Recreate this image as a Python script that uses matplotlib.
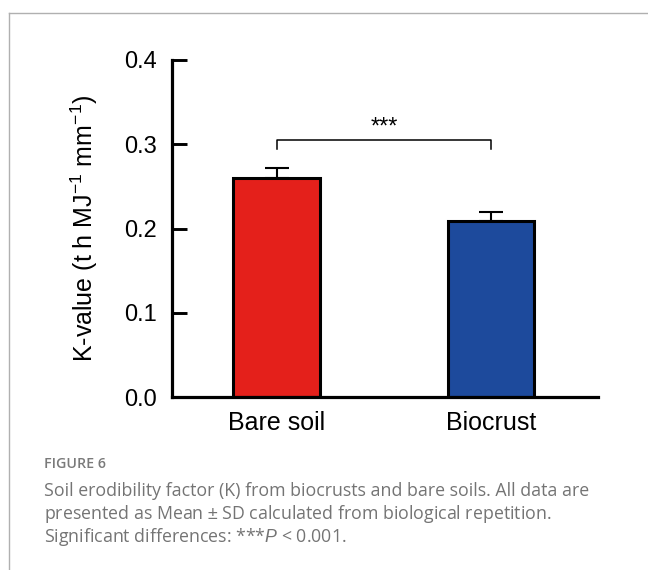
import matplotlib
matplotlib.use("Agg")
from matplotlib import pyplot as plt
from matplotlib.lines import Line2D
import numpy as np

# data
groups = ["Bare soil", "Biocrust"]
k_mean = [0.260, 0.209]
k_sd = [0.012, 0.010]
bar_colors = ["#e4201b", "#1d4a9c"]
y_ticks = [0.0, 0.1, 0.2, 0.3, 0.4]
sig_label = "***"
sig_height = 0.305

caption_head = "FIGURE 6"
caption_lines = [
    "Soil erodibility factor (K) from biocrusts and bare soils. All data are",
    "presented as Mean $\\pm$ SD calculated from biological repetition.",
    "Significant differences: ***$\\it{P}$ < 0.001.",
]

plt.rcParams["font.family"] = ["Liberation Sans", "DejaVu Sans"]
plt.rcParams["mathtext.fontset"] = "custom"
plt.rcParams["mathtext.rm"] = "Liberation Sans"
plt.rcParams["mathtext.it"] = "Liberation Sans:italic"

W, H = 648, 570
fig = plt.figure(figsize=(W / 100, H / 100), dpi=100)
ax = fig.add_axes([172 / W, 1 - 397 / H, (598 - 172) / W, (397 - 60) / H])

x = np.arange(len(groups))
ax.bar(x, k_mean, width=0.406, color=bar_colors, edgecolor="black", linewidth=2.2, zorder=2)
ax.errorbar(x, k_mean, yerr=[np.zeros(len(k_sd)), k_sd], fmt="none", ecolor="black",
            elinewidth=1.5, capsize=8.5, capthick=1.5, zorder=1)

# significance bracket
drop = 0.011
ax.plot([x[0], x[0], x[1], x[1]], [sig_height - drop, sig_height, sig_height, sig_height - drop],
        color="black", linewidth=1.1, zorder=3)
ax.text((x[0] + x[1]) / 2, sig_height + 0.002, sig_label, ha="center", va="bottom", fontsize=17)

ax.set_xlim(-0.49, 1.5)
ax.set_ylim(0, 0.4)
ax.set_yticks(y_ticks)
ax.set_yticklabels(["%.1f" % t for t in y_ticks])
ax.set_xticks(x)
ax.set_xticklabels(groups)

for s in ["top", "right"]:
    ax.spines[s].set_visible(False)
for s in ["left", "bottom"]:
    ax.spines[s].set_linewidth(2.3)
ax.tick_params(axis="both", direction="in", length=11, width=2.1)
ax.tick_params(axis="y", labelsize=17, pad=11)
ax.tick_params(axis="x", labelsize=18, pad=10)
ax.set_ylabel("K-value (t h MJ$^{\\mathregular{-1}}$ mm$^{\\mathregular{-1}}$)", fontsize=18, labelpad=17)

# page frame lines
fig.add_artist(Line2D([9 / W, 1], [1 - 13 / H, 1 - 13 / H], color="#b0b0b0", linewidth=1.0))
fig.add_artist(Line2D([9 / W, 9 / W], [0, 1 - 13 / H], color="#b0b0b0", linewidth=1.0))

# caption
fig.text(44 / W, 1 - 464 / H, caption_head, fontsize=10.3, color="#7a7a7a", fontweight="semibold",
         family="Open Sans", va="center")
for i, line in enumerate(caption_lines):
    fig.text(44 / W, 1 - (491 + i * 23) / H, line, fontsize=12.8, color="#747474",
             family="Open Sans", va="center")

fig.savefig("out.png", dpi=100)
